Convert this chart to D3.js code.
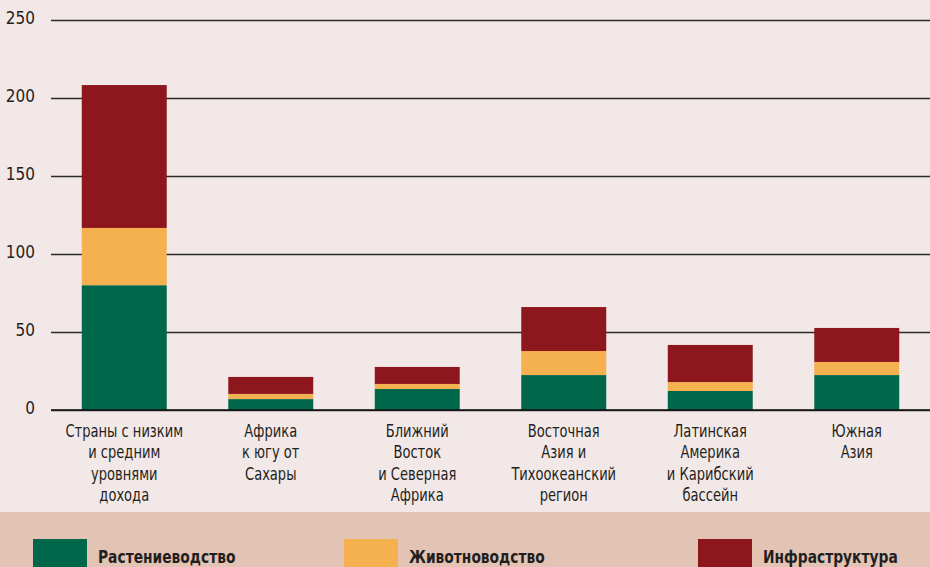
<!DOCTYPE html>
<html>
<head>
<meta charset="utf-8">
<script src="https://cdn.jsdelivr.net/npm/d3@7"></script>
<style>
  body { margin: 0; background: #f3e8e8; }
  text { font-family: "Liberation Sans Narrow", "DejaVu Sans Condensed", sans-serif; fill: #231f20; }
</style>
</head>
<body>
<div id="chart"></div>
<script>
// chart size
var width = 930,
    height = 567;
// horizontal squeeze to get a condensed look
var squeeze = 0.83;

// data
var categories = [
  ["Страны с низким", "и средним", "уровнями", "дохода"],
  ["Африка", "к югу от", "Сахары"],
  ["Ближний", "Восток", "и Северная", "Африка"],
  ["Восточная", "Азия и", "Тихоокеанский", "регион"],
  ["Латинская", "Америка", "и Карибский", "бассейн"],
  ["Южная", "Азия"]
];
var crops = [80, 7, 13.5, 22.4, 12.2, 22.4];
var livestock = [36.7, 3.3, 3.2, 15.4, 5.7, 8.4];
var infrastructure = [91.6, 10.9, 10.9, 28.2, 23.8, 21.8];
var seriesNames = ["Растениеводство", "Животноводство", "Инфраструктура"];
var seriesColors = ["#00674a", "#f5b04f", "#8d171c"];
var yTicks = [0, 50, 100, 150, 200, 250];

// build rows for the stack
var rows = categories.map(function(c, i) {
  return { idx: i, crops: crops[i], livestock: livestock[i], infrastructure: infrastructure[i] };
});
var keys = ["crops", "livestock", "infrastructure"];

var svg = d3.select("#chart").append("svg")
    .attr("width", width)
    .attr("height", height);

svg.append("rect")
    .attr("width", width)
    .attr("height", height)
    .attr("fill", "#f3e8e8");

// scales
var x = d3.scaleBand()
    .domain(d3.range(categories.length))
    .range([51, 930])
    .paddingInner(0.42)
    .paddingOuter(0.21);

var y = d3.scaleLinear()
    .domain([0, 250])
    .range([410, 20]);

// grid lines + y labels
var yAxis = svg.append("g")
    .attr("class", "y-axis")
    .attr("transform", "translate(51,0)")
    .call(d3.axisLeft(y).tickValues(yTicks).tickSize(-(width - 51)).tickPadding(16));

yAxis.select(".domain").remove();
yAxis.selectAll(".tick line")
    .attr("stroke", "#2a2a2a")
    .attr("stroke-width", 1.3);
yAxis.selectAll(".tick text")
    .attr("dy", "0.2em")
    .style("font-size", "17px")
    .style("font-family", "\"Liberation Sans Narrow\", \"DejaVu Sans Condensed\", sans-serif")
    .attr("fill", "#231f20");

// stacked bars
var stack = d3.stack().keys(keys);
var layers = svg.append("g").selectAll("g")
    .data(stack(rows))
    .enter()
    .append("g")
    .attr("fill", function(d, i) { return seriesColors[i]; });

layers.selectAll("rect")
    .data(function(d) { return d; })
    .enter()
    .append("rect")
    .attr("x", function(d) { return x(d.data.idx); })
    .attr("width", x.bandwidth())
    .attr("y", function(d) { return y(d[1]); })
    .attr("height", function(d) { return y(d[0]) - y(d[1]); });

// redraw the zero line over the bars
svg.append("line")
    .attr("x1", 51)
    .attr("x2", width)
    .attr("y1", y(0))
    .attr("y2", y(0))
    .attr("stroke", "#111")
    .attr("stroke-width", 1.6);

// category labels
var labels = svg.append("g").selectAll("text")
    .data(categories)
    .enter()
    .append("text")
    .attr("text-anchor", "middle")
    .attr("transform", function(d, i) {
      return "translate(" + (x(i) + x.bandwidth() / 2) + ",437) scale(" + squeeze + ",1)";
    })
    .style("font-size", "17.5px");

labels.selectAll("tspan")
    .data(function(d) { return d; })
    .enter()
    .append("tspan")
    .attr("x", 0)
    .attr("dy", function(d, i) { return i === 0 ? 0 : 21.3; })
    .text(function(d) { return d; });

// legend band
svg.append("rect")
    .attr("y", 512)
    .attr("width", width)
    .attr("height", height - 512)
    .attr("fill", "#e2c3b4");

var legendX = [33, 344, 698];
var legend = svg.append("g").selectAll("g")
    .data(seriesNames)
    .enter()
    .append("g")
    .attr("transform", function(d, i) { return "translate(" + legendX[i] + ",539)"; });

legend.append("rect")
    .attr("width", 54)
    .attr("height", 40)
    .attr("fill", function(d, i) { return seriesColors[i]; });

legend.append("text")
    .attr("transform", "translate(65,24) scale(" + squeeze + ",1)")
    .style("font-size", "18.5px")
    .style("font-weight", "bold")
    .text(function(d) { return d; });
</script>
</body>
</html>
